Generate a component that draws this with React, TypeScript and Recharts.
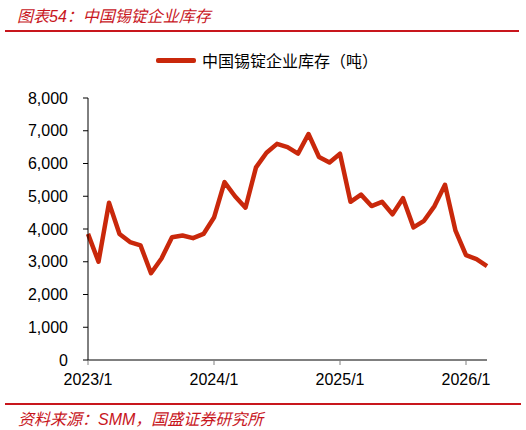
import React from 'react';
import { LineChart, Line, XAxis, YAxis } from 'recharts';

const MONTHS = [
  `2023/1`, `2023/2`, `2023/3`, `2023/4`, `2023/5`, `2023/6`, `2023/7`, `2023/8`, `2023/9`, `2023/10`, `2023/11`, `2023/12`,
  `2024/1`, `2024/2`, `2024/3`, `2024/4`, `2024/5`, `2024/6`, `2024/7`, `2024/8`, `2024/9`, `2024/10`, `2024/11`, `2024/12`,
  `2025/1`, `2025/2`, `2025/3`, `2025/4`, `2025/5`, `2025/6`, `2025/7`, `2025/8`, `2025/9`, `2025/10`, `2025/11`, `2025/12`,
  `2026/1`, `2026/2`, `2026/3`,
];

const STOCK = [
  3850, 3000, 4800, 3850, 3600, 3500, 2650, 3100, 3750, 3800, 3720, 3850,
  4350, 5430, 5000, 4650, 5880, 6330, 6600, 6500, 6300, 6900, 6200, 6030,
  6300, 4830, 5050, 4700, 4830, 4450, 4940, 4050, 4250, 4700, 5350, 3950,
  3200, 3080, 2870,
];

const Y_TICKS = [0, 1000, 2000, 3000, 4000, 5000, 6000, 7000, 8000];
const X_TICKS = [`2023/1`, `2024/1`, `2025/1`, `2026/1`];

const SERIES_NAME = `中国锡锭企业库存（吨）`;
const TITLE = `图表54：中国锡锭企业库存`;
const SOURCE = `资料来源：SMM，国盛证券研究所`;

const LINE_COLOR = `#C9280B`;
const RED = `#C8161D`;
const FONT = `"Liberation Sans", "Noto Sans CJK SC", sans-serif`;

const data = MONTHS.map((m, i) => ({ month: m, stock: STOCK[i] }));

const App: React.FC = () => {
  return (
    <div
      style={{
        position: `absolute`,
        left: 0,
        top: 0,
        width: 526,
        height: 430,
        background: `#fff`,
        fontFamily: FONT,
      }}
    >
      <div
        style={{
          position: `absolute`,
          left: 17,
          top: 3,
          fontSize: 16,
          fontStyle: `italic`,
          color: RED,
          whiteSpace: `nowrap`,
        }}
      >
        {TITLE}
      </div>
      <div style={{ position: `absolute`, left: 5, top: 30, width: 514, height: 2, background: RED }} />

      <div style={{ position: `absolute`, left: 156, top: 48, display: `flex`, alignItems: `center` }}>
        <div style={{ width: 40, height: 5, background: LINE_COLOR, borderRadius: 2 }} />
        <span style={{ marginLeft: 6, fontSize: 16, color: `#000`, whiteSpace: `nowrap` }}>{SERIES_NAME}</span>
      </div>

      <LineChart
        width={526}
        height={430}
        data={data}
        margin={{ top: 98, right: 39, bottom: 40, left: 28 }}
      >
        <XAxis
          dataKey="month"
          ticks={X_TICKS}
          interval={0}
          height={30}
          axisLine={{ stroke: `#000` }}
          tickLine={{ stroke: `#808080` }}
          tickSize={5}
          tickMargin={9}
          tick={{ fill: `#000`, fontSize: 16, fontFamily: FONT }}
        />
        <YAxis
          domain={[0, 8000]}
          ticks={Y_TICKS}
          width={60}
          axisLine={{ stroke: `#000` }}
          tickLine={{ stroke: `#000` }}
          tickSize={5}
          tickMargin={15}
          tickFormatter={(v: number) => v.toLocaleString(`en-US`)}
          tick={{ fill: `#000`, fontSize: 16, fontFamily: FONT }}
        />
        <Line
          type="linear"
          dataKey="stock"
          stroke={LINE_COLOR}
          strokeWidth={4.5}
          strokeLinejoin="round"
          dot={false}
          activeDot={false}
          isAnimationActive={false}
        />
      </LineChart>

      <div style={{ position: `absolute`, left: 5, top: 403, width: 516, height: 2, background: RED }} />
      <div
        style={{
          position: `absolute`,
          left: 18,
          top: 406,
          fontSize: 16,
          fontStyle: `italic`,
          color: RED,
          whiteSpace: `nowrap`,
        }}
      >
        {SOURCE}
      </div>
    </div>
  );
};

export default App;
